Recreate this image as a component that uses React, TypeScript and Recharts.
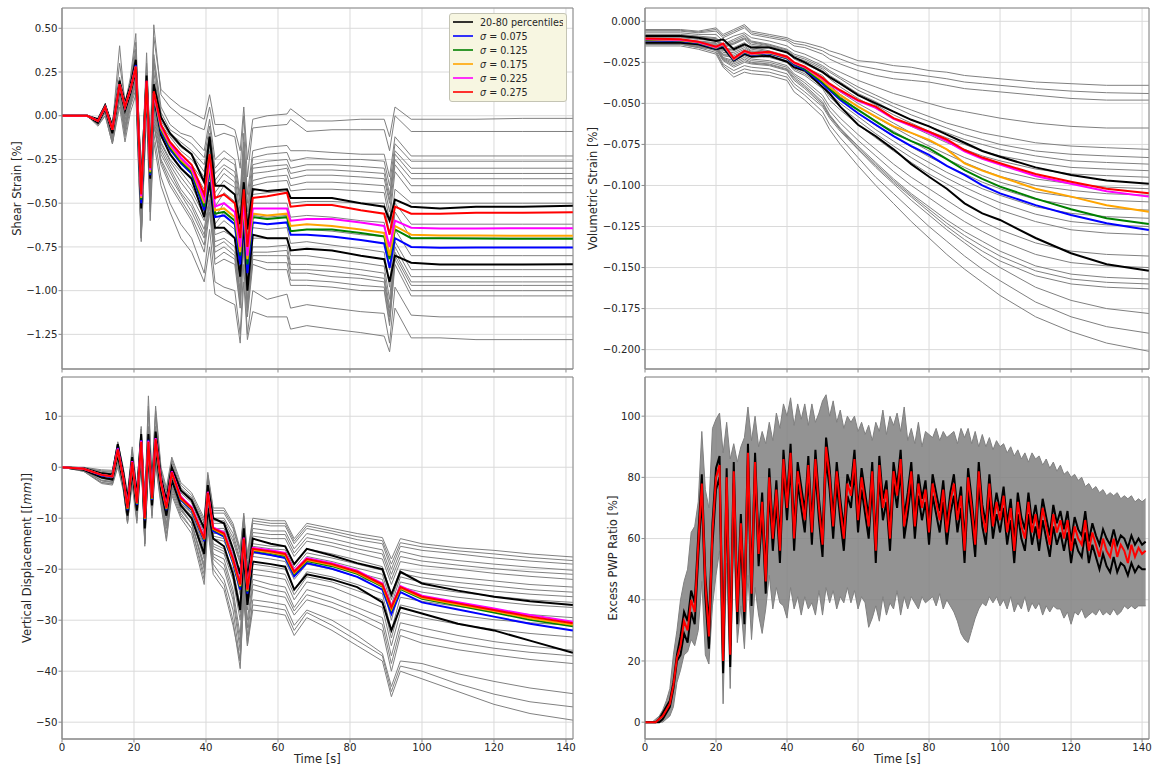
import type { ReactNode } from 'react'
import {
  ComposedChart,
  Line,
  Area,
  XAxis,
  YAxis,
  CartesianGrid,
  ReferenceArea,
  Legend,
  Label,
} from 'recharts'

const FONT = '"DejaVu Sans", sans-serif'
const TEXT = '#262626'
const SPINE = '#8a8a8a'
const GRID = '#dadada'
const GRAY = '#808080'
const X_MAX = 141.95
const TIME_TICKS = [0, 20, 40, 60, 80, 100, 120, 140]

const SIGMA_COLORS = ['#0000ff', '#008000', '#ffa500', '#ff00ff', '#ff0000']
const SIGMA_VALUES = ['0.075', '0.125', '0.175', '0.225', '0.275']

// ---------- shear strain [%] ----------
const shearTime = [0, 7, 10, 12, 14, 16, 17.5, 19, 20.5, 22, 23.5, 24.5, 25.5, 27.5, 30, 33, 36, 39.5, 41, 42.5,
  45, 48, 49.5, 50.5, 51.5, 53, 57, 62.5, 63.5, 68, 75, 83, 89.5, 91, 92.5, 97, 105, 115, 128, 141.9]

const shearGray = [
  [0, 0, -0.02, 0.06, -0.05, 0.3, 0.08, 0.2, 0.42, -0.35, 0.3, -0.15, 0.45, 0.15, 0.1, 0.05, 0.02, -0.02, 0.12, -0.05,
    -0.05, -0.08, -0.2, 0.05, -0.25, -0.02, 0, 0.01, 0.04, -0.03, -0.03, -0.02, -0.02, -0.12, 0.05, -0.02, -0.02, -0.02, -0.015, -0.015],
  [0, 0, -0.03, 0.07, -0.06, 0.4, 0.06, 0.22, 0.47, -0.4, 0.36, -0.2, 0.52, 0.12, 0.05, 0, -0.05, -0.08, 0.05, -0.12,
    -0.1, -0.12, -0.3, 0, -0.35, -0.07, -0.06, -0.05, -0.02, -0.09, -0.08, -0.08, -0.08, -0.2, 0, -0.09, -0.09, -0.09, -0.09, -0.09],
  [0, 0, -0.03, 0.06, -0.08, 0.2, 0.04, 0.18, 0.38, -0.5, 0.25, -0.25, 0.35, 0.05, -0.05, -0.1, -0.12, -0.2, -0.02, -0.25,
    -0.2, -0.25, -0.45, -0.1, -0.45, -0.2, -0.18, -0.17, -0.2, -0.2, -0.21, -0.22, -0.22, -0.35, -0.12, -0.23, -0.23, -0.23, -0.23, -0.23],
  [0, 0, -0.03, 0.06, -0.09, 0.21, 0.03, 0.16, 0.36, -0.52, 0.23, -0.28, 0.32, 0.02, -0.08, -0.12, -0.16, -0.24, -0.06, -0.3,
    -0.24, -0.28, -0.48, -0.15, -0.5, -0.24, -0.22, -0.21, -0.26, -0.24, -0.25, -0.25, -0.26, -0.4, -0.16, -0.26, -0.26, -0.26, -0.26, -0.26],
  [0, 0, -0.04, 0.05, -0.1, 0.22, 0.02, 0.15, 0.35, -0.55, 0.22, -0.3, 0.3, 0, -0.1, -0.15, -0.2, -0.28, -0.1, -0.33,
    -0.28, -0.32, -0.5, -0.2, -0.55, -0.28, -0.26, -0.25, -0.3, -0.28, -0.28, -0.29, -0.3, -0.45, -0.2, -0.3, -0.3, -0.3, -0.3, -0.3],
  [0, 0, -0.02, 0.05, -0.09, 0.19, 0.01, 0.14, 0.33, -0.52, 0.2, -0.31, 0.25, -0.03, -0.11, -0.18, -0.22, -0.32, -0.12, -0.37,
    -0.3, -0.35, -0.55, -0.22, -0.6, -0.3, -0.29, -0.28, -0.33, -0.31, -0.31, -0.32, -0.33, -0.48, -0.22, -0.33, -0.33, -0.33, -0.33, -0.33],
  [0, 0, -0.02, 0.04, -0.09, 0.15, 0, 0.12, 0.3, -0.5, 0.18, -0.32, 0.2, -0.05, -0.12, -0.2, -0.25, -0.35, -0.15, -0.4,
    -0.33, -0.38, -0.6, -0.25, -0.65, -0.33, -0.32, -0.3, -0.36, -0.34, -0.34, -0.35, -0.36, -0.5, -0.25, -0.36, -0.36, -0.36, -0.36, -0.36],
  [0, 0, -0.03, 0.05, -0.09, 0.17, 0.02, 0.13, 0.3, -0.52, 0.19, -0.33, 0.18, -0.06, -0.15, -0.22, -0.28, -0.38, -0.17, -0.44,
    -0.37, -0.41, -0.65, -0.3, -0.7, -0.37, -0.35, -0.34, -0.4, -0.38, -0.38, -0.39, -0.4, -0.55, -0.28, -0.4, -0.4, -0.4, -0.4, -0.4],
  [0, 0, -0.03, 0.05, -0.1, 0.18, 0.03, 0.14, 0.28, -0.55, 0.2, -0.35, 0.15, -0.08, -0.18, -0.25, -0.3, -0.42, -0.2, -0.48,
    -0.4, -0.45, -0.7, -0.35, -0.75, -0.4, -0.38, -0.37, -0.43, -0.42, -0.42, -0.43, -0.44, -0.6, -0.32, -0.44, -0.44, -0.44, -0.44, -0.44],
  [0, 0, -0.03, 0.05, -0.1, 0.17, 0.03, 0.13, 0.27, -0.56, 0.18, -0.36, 0.12, -0.09, -0.2, -0.27, -0.32, -0.45, -0.24, -0.52,
    -0.44, -0.49, -0.74, -0.4, -0.8, -0.45, -0.44, -0.43, -0.5, -0.49, -0.49, -0.5, -0.5, -0.68, -0.42, -0.5, -0.5, -0.5, -0.5, -0.5],
  [0, 0, -0.04, 0.04, -0.12, 0.16, 0.02, 0.12, 0.25, -0.6, 0.15, -0.4, 0.1, -0.12, -0.22, -0.3, -0.35, -0.5, -0.3, -0.58,
    -0.5, -0.55, -0.8, -0.45, -0.85, -0.5, -0.5, -0.5, -0.58, -0.57, -0.58, -0.6, -0.61, -0.8, -0.5, -0.62, -0.62, -0.62, -0.62, -0.62],
  [0, 0, -0.03, 0.03, -0.1, 0.14, 0, 0.1, 0.22, -0.62, 0.12, -0.42, 0.05, -0.15, -0.25, -0.32, -0.4, -0.55, -0.35, -0.62,
    -0.55, -0.6, -0.85, -0.5, -0.9, -0.57, -0.58, -0.57, -0.66, -0.65, -0.66, -0.68, -0.69, -0.88, -0.55, -0.7, -0.7, -0.7, -0.7, -0.7],
  [0, 0, -0.04, 0.03, -0.12, 0.14, -0.02, 0.1, 0.23, -0.62, 0.13, -0.43, 0.04, -0.16, -0.26, -0.35, -0.43, -0.57, -0.38, -0.65,
    -0.6, -0.65, -0.9, -0.55, -0.95, -0.64, -0.65, -0.64, -0.73, -0.72, -0.74, -0.76, -0.78, -0.98, -0.65, -0.8, -0.8, -0.8, -0.8, -0.8],
  [0, 0, -0.04, 0.03, -0.13, 0.13, -0.03, 0.09, 0.21, -0.63, 0.11, -0.44, 0.02, -0.18, -0.28, -0.38, -0.46, -0.6, -0.4, -0.68,
    -0.66, -0.7, -0.95, -0.6, -1, -0.7, -0.7, -0.7, -0.8, -0.8, -0.82, -0.84, -0.86, -1.05, -0.72, -0.88, -0.88, -0.88, -0.88, -0.88],
  [0, 0, -0.05, 0.02, -0.14, 0.12, -0.05, 0.08, 0.2, -0.65, 0.1, -0.45, 0, -0.2, -0.3, -0.42, -0.5, -0.65, -0.45, -0.72,
    -0.7, -0.75, -1, -0.65, -1.05, -0.75, -0.75, -0.74, -0.85, -0.85, -0.86, -0.88, -0.9, -1.1, -0.75, -0.92, -0.92, -0.92, -0.92, -0.92],
  [0, 0, -0.05, 0.02, -0.15, 0.11, -0.06, 0.07, 0.19, -0.66, 0.09, -0.47, -0.02, -0.22, -0.32, -0.44, -0.52, -0.68, -0.48, -0.75,
    -0.72, -0.78, -1.02, -0.68, -1.08, -0.78, -0.78, -0.77, -0.88, -0.88, -0.89, -0.91, -0.93, -1.13, -0.78, -0.95, -0.95, -0.95, -0.95, -0.95],
  [0, 0, -0.04, 0.03, -0.15, 0.1, -0.08, 0.06, 0.18, -0.68, 0.08, -0.5, -0.05, -0.25, -0.35, -0.45, -0.55, -0.7, -0.5, -0.78,
    -0.75, -0.8, -1.05, -0.7, -1.1, -0.8, -0.8, -0.8, -0.9, -0.9, -0.92, -0.93, -0.95, -1.15, -0.8, -0.97, -0.97, -0.97, -0.97, -0.97],
  [0, 0, -0.05, 0.02, -0.15, 0.1, -0.09, 0.08, 0.2, -0.69, 0.09, -0.5, -0.05, -0.26, -0.38, -0.48, -0.58, -0.74, -0.52, -0.82,
    -0.78, -0.82, -1.08, -0.72, -1.12, -0.82, -0.84, -0.84, -0.94, -0.94, -0.95, -0.97, -0.98, -1.18, -0.82, -1, -1, -1, -1, -1],
  [0, 0, -0.05, 0.02, -0.15, 0.12, -0.1, 0.1, 0.22, -0.7, 0.1, -0.5, -0.05, -0.28, -0.4, -0.5, -0.6, -0.78, -0.55, -0.85,
    -0.82, -0.85, -1.1, -0.75, -1.15, -0.85, -0.88, -0.88, -0.97, -0.97, -0.98, -1, -1, -1.2, -0.85, -1.03, -1.03, -1.03, -1.03, -1.03],
  [0, 0, -0.05, 0, -0.16, 0.08, -0.12, 0.05, 0.15, -0.7, 0.05, -0.55, -0.1, -0.35, -0.5, -0.62, -0.7, -0.9, -0.65, -0.95,
    -0.98, -1, -1.25, -0.85, -1.25, -1, -1.05, -1.02, -1.1, -1.08, -1.1, -1.12, -1.13, -1.3, -0.98, -1.14, -1.15, -1.15, -1.15, -1.15],
  [0, 0, -0.06, 0, -0.16, 0.05, -0.15, 0.02, 0.12, -0.72, 0.02, -0.6, -0.15, -0.4, -0.55, -0.7, -0.78, -0.95, -0.75, -1.02,
    -1.05, -1.08, -1.3, -0.95, -1.28, -1.12, -1.15, -1.15, -1.22, -1.2, -1.22, -1.24, -1.26, -1.35, -1.1, -1.27, -1.27, -1.28, -1.28, -1.28],
]
const shearHi = [0, 0, -0.02, 0.06, -0.06, 0.2, 0.07, 0.17, 0.32, -0.4, 0.23, -0.26, 0.18, -0.01, -0.1, -0.17, -0.22, -0.38, -0.12, -0.4,
  -0.4, -0.45, -0.62, -0.38, -0.65, -0.42, -0.43, -0.42, -0.47, -0.47, -0.47, -0.5, -0.52, -0.6, -0.48, -0.52, -0.53, -0.52, -0.52, -0.515]
const shearLo = [0, 0, -0.04, 0.04, -0.1, 0.16, 0.03, 0.13, 0.26, -0.53, 0.17, -0.36, 0.1, -0.11, -0.22, -0.3, -0.36, -0.58, -0.38, -0.64,
  -0.64, -0.7, -0.92, -0.6, -1, -0.68, -0.7, -0.7, -0.77, -0.76, -0.77, -0.8, -0.82, -0.95, -0.8, -0.84, -0.85, -0.85, -0.85, -0.849]
const shearSigma = [
  [0, 0, -0.03, 0.05, -0.08, 0.18, 0.05, 0.15, 0.29, -0.5, 0.19, -0.34, 0.12, -0.09, -0.19, -0.27, -0.33, -0.54, -0.3, -0.58,
    -0.57, -0.62, -0.85, -0.55, -0.9, -0.61, -0.62, -0.61, -0.68, -0.68, -0.69, -0.71, -0.73, -0.87, -0.7, -0.75, -0.755, -0.754, -0.754, -0.754],
  [0, 0, -0.03, 0.05, -0.08, 0.18, 0.05, 0.15, 0.28, -0.48, 0.19, -0.33, 0.12, -0.08, -0.18, -0.26, -0.32, -0.52, -0.28, -0.56,
    -0.55, -0.6, -0.8, -0.52, -0.85, -0.58, -0.59, -0.58, -0.66, -0.65, -0.65, -0.67, -0.69, -0.82, -0.65, -0.7, -0.7, -0.702, -0.703, -0.703],
  [0, 0, -0.03, 0.05, -0.08, 0.18, 0.05, 0.15, 0.28, -0.47, 0.19, -0.32, 0.13, -0.07, -0.17, -0.25, -0.31, -0.5, -0.27, -0.54,
    -0.53, -0.58, -0.78, -0.5, -0.82, -0.56, -0.57, -0.56, -0.63, -0.62, -0.63, -0.65, -0.67, -0.8, -0.63, -0.68, -0.685, -0.685, -0.686, -0.686],
  [0, 0, -0.03, 0.05, -0.08, 0.18, 0.05, 0.15, 0.28, -0.46, 0.2, -0.31, 0.13, -0.06, -0.16, -0.24, -0.3, -0.48, -0.25, -0.52,
    -0.5, -0.55, -0.75, -0.48, -0.8, -0.53, -0.53, -0.53, -0.6, -0.59, -0.59, -0.61, -0.63, -0.75, -0.6, -0.64, -0.645, -0.645, -0.643, -0.643],
  [0, 0, -0.03, 0.05, -0.08, 0.18, 0.05, 0.15, 0.28, -0.45, 0.2, -0.3, 0.14, -0.05, -0.15, -0.22, -0.28, -0.45, -0.22, -0.47,
    -0.45, -0.5, -0.7, -0.42, -0.75, -0.47, -0.46, -0.44, -0.52, -0.51, -0.51, -0.54, -0.56, -0.68, -0.52, -0.56, -0.56, -0.555, -0.555, -0.552],
]
const shearTicks = [-1.25, -1, -0.75, -0.5, -0.25, 0, 0.25, 0.5]

// ---------- volumetric strain [%] ----------
const volTime = [0, 10, 15, 20, 22, 25, 28, 30, 35, 40, 42, 45, 50, 52, 55, 60, 65, 70, 75, 80, 85, 90, 95, 100, 110, 120, 130, 141.9]

const volGray = [
  [-0.005, -0.005, -0.006, -0.004, -0.008, -0.005, -0.002, -0.006, -0.008, -0.01, -0.012, -0.013, -0.016, -0.018, -0.02, -0.024, -0.025, -0.027, -0.028, -0.03, -0.031, -0.033, -0.034, -0.035, -0.037, -0.038, -0.039, -0.039],
  [-0.0055, -0.0055, -0.0065, -0.005, -0.009, -0.006, -0.003, -0.007, -0.009, -0.011, -0.0135, -0.0145, -0.018, -0.0205, -0.023, -0.027, -0.029, -0.031, -0.032, -0.0335, -0.035, -0.037, -0.038, -0.039, -0.041, -0.0425, -0.0435, -0.044],
  [-0.006, -0.006, -0.007, -0.006, -0.01, -0.007, -0.004, -0.008, -0.01, -0.012, -0.015, -0.016, -0.02, -0.023, -0.026, -0.03, -0.033, -0.035, -0.036, -0.037, -0.039, -0.041, -0.042, -0.043, -0.045, -0.047, -0.048, -0.048],
  [-0.007, -0.007, -0.008, -0.008, -0.012, -0.009, -0.007, -0.01, -0.012, -0.015, -0.018, -0.02, -0.025, -0.028, -0.031, -0.036, -0.04, -0.044, -0.047, -0.05, -0.053, -0.055, -0.057, -0.059, -0.062, -0.064, -0.065, -0.065],
  [-0.008, -0.008, -0.009, -0.01, -0.014, -0.011, -0.008, -0.012, -0.014, -0.017, -0.02, -0.022, -0.027, -0.03, -0.034, -0.04, -0.045, -0.05, -0.054, -0.058, -0.062, -0.065, -0.068, -0.07, -0.074, -0.076, -0.077, -0.078],
  [-0.0085, -0.0085, -0.0095, -0.0105, -0.0145, -0.012, -0.009, -0.0125, -0.0145, -0.0175, -0.021, -0.023, -0.028, -0.031, -0.035, -0.042, -0.047, -0.052, -0.057, -0.061, -0.065, -0.069, -0.072, -0.075, -0.079, -0.081, -0.082, -0.083],
  [-0.009, -0.009, -0.01, -0.011, -0.015, -0.013, -0.01, -0.013, -0.015, -0.018, -0.022, -0.024, -0.029, -0.033, -0.037, -0.044, -0.049, -0.055, -0.06, -0.064, -0.068, -0.072, -0.075, -0.078, -0.082, -0.085, -0.086, -0.087],
  [-0.0095, -0.0095, -0.0105, -0.0115, -0.0155, -0.0135, -0.0105, -0.014, -0.0155, -0.0185, -0.0225, -0.025, -0.03, -0.034, -0.038, -0.045, -0.051, -0.057, -0.062, -0.067, -0.071, -0.075, -0.079, -0.082, -0.086, -0.089, -0.09, -0.091],
  [-0.01, -0.01, -0.011, -0.012, -0.016, -0.014, -0.011, -0.015, -0.016, -0.019, -0.023, -0.026, -0.031, -0.035, -0.04, -0.047, -0.053, -0.059, -0.064, -0.069, -0.074, -0.078, -0.082, -0.085, -0.09, -0.093, -0.094, -0.095],
  [-0.011, -0.011, -0.012, -0.013, -0.017, -0.016, -0.013, -0.016, -0.018, -0.021, -0.025, -0.028, -0.033, -0.038, -0.043, -0.05, -0.056, -0.062, -0.068, -0.073, -0.078, -0.083, -0.087, -0.091, -0.096, -0.099, -0.101, -0.102],
  [-0.0115, -0.0115, -0.0125, -0.0135, -0.0175, -0.017, -0.014, -0.017, -0.0185, -0.0215, -0.0255, -0.0285, -0.034, -0.039, -0.0445, -0.052, -0.0585, -0.0645, -0.0705, -0.076, -0.081, -0.086, -0.0905, -0.0945, -0.1, -0.103, -0.105, -0.106],
  [-0.012, -0.012, -0.013, -0.014, -0.018, -0.018, -0.015, -0.018, -0.019, -0.022, -0.026, -0.029, -0.035, -0.04, -0.046, -0.054, -0.061, -0.067, -0.073, -0.079, -0.084, -0.089, -0.094, -0.098, -0.104, -0.107, -0.109, -0.11],
  [-0.0125, -0.0125, -0.0135, -0.0145, -0.019, -0.019, -0.016, -0.0185, -0.02, -0.023, -0.027, -0.03, -0.0365, -0.042, -0.048, -0.056, -0.0635, -0.07, -0.0765, -0.0825, -0.088, -0.093, -0.098, -0.102, -0.1085, -0.112, -0.114, -0.115],
  [-0.013, -0.013, -0.014, -0.015, -0.02, -0.02, -0.017, -0.019, -0.021, -0.024, -0.028, -0.031, -0.038, -0.044, -0.05, -0.058, -0.066, -0.073, -0.08, -0.086, -0.092, -0.097, -0.102, -0.106, -0.113, -0.117, -0.119, -0.12],
  [-0.0135, -0.0135, -0.0145, -0.0155, -0.0205, -0.021, -0.018, -0.02, -0.0215, -0.0245, -0.029, -0.032, -0.0395, -0.046, -0.052, -0.0605, -0.0685, -0.076, -0.083, -0.0895, -0.0955, -0.101, -0.106, -0.1105, -0.1175, -0.122, -0.124, -0.125],
  [-0.014, -0.014, -0.015, -0.016, -0.021, -0.022, -0.019, -0.021, -0.022, -0.025, -0.03, -0.033, -0.041, -0.048, -0.054, -0.063, -0.071, -0.079, -0.086, -0.093, -0.099, -0.105, -0.11, -0.115, -0.122, -0.127, -0.129, -0.13],
  [-0.012, -0.012, -0.014, -0.015, -0.022, -0.024, -0.021, -0.023, -0.024, -0.027, -0.032, -0.036, -0.045, -0.052, -0.059, -0.069, -0.078, -0.087, -0.095, -0.102, -0.109, -0.116, -0.122, -0.127, -0.135, -0.14, -0.142, -0.143],
  [-0.0125, -0.0125, -0.0145, -0.0155, -0.0225, -0.025, -0.022, -0.024, -0.025, -0.028, -0.033, -0.0375, -0.047, -0.0545, -0.062, -0.0725, -0.082, -0.0915, -0.1, -0.1075, -0.115, -0.122, -0.128, -0.1335, -0.142, -0.147, -0.149, -0.15],
  [-0.013, -0.013, -0.015, -0.016, -0.023, -0.026, -0.023, -0.025, -0.026, -0.029, -0.034, -0.039, -0.049, -0.057, -0.065, -0.076, -0.086, -0.096, -0.105, -0.113, -0.121, -0.128, -0.134, -0.14, -0.149, -0.154, -0.156, -0.157],
  [-0.0135, -0.0135, -0.0155, -0.0165, -0.0235, -0.027, -0.024, -0.0255, -0.0265, -0.0295, -0.035, -0.04, -0.05, -0.0575, -0.0655, -0.077, -0.087, -0.097, -0.106, -0.1145, -0.123, -0.1305, -0.137, -0.143, -0.152, -0.157, -0.159, -0.16],
  [-0.014, -0.014, -0.016, -0.017, -0.024, -0.028, -0.025, -0.026, -0.027, -0.03, -0.036, -0.041, -0.051, -0.058, -0.066, -0.078, -0.088, -0.098, -0.107, -0.116, -0.125, -0.133, -0.14, -0.146, -0.155, -0.16, -0.162, -0.163],
  [-0.013, -0.013, -0.015, -0.018, -0.026, -0.03, -0.027, -0.028, -0.029, -0.032, -0.038, -0.043, -0.052, -0.059, -0.067, -0.078, -0.089, -0.099, -0.109, -0.118, -0.127, -0.135, -0.143, -0.15, -0.162, -0.17, -0.175, -0.178],
  [-0.014, -0.014, -0.016, -0.019, -0.027, -0.032, -0.029, -0.03, -0.031, -0.034, -0.04, -0.045, -0.055, -0.063, -0.071, -0.083, -0.095, -0.105, -0.115, -0.125, -0.134, -0.143, -0.151, -0.158, -0.171, -0.18, -0.186, -0.19],
  [-0.015, -0.015, -0.017, -0.02, -0.028, -0.034, -0.031, -0.032, -0.033, -0.036, -0.043, -0.048, -0.058, -0.066, -0.075, -0.088, -0.1, -0.111, -0.122, -0.132, -0.142, -0.151, -0.159, -0.167, -0.18, -0.189, -0.196, -0.201],
]
const volHi = [-0.009, -0.009, -0.01, -0.012, -0.011, -0.017, -0.014, -0.016, -0.016, -0.019, -0.022, -0.025, -0.031, -0.034, -0.038, -0.045, -0.05, -0.055, -0.06, -0.064, -0.069, -0.074, -0.079, -0.0825, -0.089, -0.0936, -0.097, -0.099]
const volLo = [-0.013, -0.013, -0.014, -0.017, -0.016, -0.024, -0.02, -0.0216, -0.021, -0.0246, -0.028, -0.03, -0.04, -0.044, -0.052, -0.063, -0.07, -0.078, -0.087, -0.0947, -0.102, -0.1109, -0.117, -0.121, -0.132, -0.1413, -0.148, -0.152]
const volSigma = [
  [-0.0115, -0.012, -0.0133, -0.0165, -0.0145, -0.0235, -0.019, -0.0205, -0.0195, -0.0226, -0.0265, -0.0295, -0.038, -0.042, -0.048, -0.056, -0.063, -0.07, -0.076, -0.0814, -0.088, -0.0936, -0.1, -0.1048, -0.112, -0.118, -0.123, -0.1271],
  [-0.0112, -0.0117, -0.013, -0.0162, -0.0142, -0.0232, -0.0187, -0.0202, -0.0192, -0.0223, -0.026, -0.029, -0.037, -0.041, -0.047, -0.054, -0.061, -0.068, -0.073, -0.0774, -0.084, -0.0906, -0.096, -0.1007, -0.108, -0.1145, -0.12, -0.1235],
  [-0.011, -0.0115, -0.0128, -0.016, -0.014, -0.023, -0.0185, -0.02, -0.019, -0.022, -0.0255, -0.028, -0.036, -0.04, -0.045, -0.052, -0.058, -0.064, -0.068, -0.0722, -0.078, -0.0865, -0.091, -0.0947, -0.102, -0.1068, -0.112, -0.116],
  [-0.0108, -0.0112, -0.0126, -0.0157, -0.0137, -0.0228, -0.0182, -0.0197, -0.0187, -0.0218, -0.0253, -0.028, -0.035, -0.0385, -0.0425, -0.0485, -0.0527, -0.0595, -0.0637, -0.068, -0.073, -0.0792, -0.0838, -0.0873, -0.0942, -0.099, -0.1035, -0.1068],
  [-0.0105, -0.011, -0.0124, -0.0155, -0.0135, -0.0226, -0.018, -0.0195, -0.0185, -0.0216, -0.025, -0.0276, -0.0345, -0.038, -0.042, -0.048, -0.052, -0.059, -0.063, -0.0672, -0.072, -0.0784, -0.083, -0.0865, -0.093, -0.0977, -0.102, -0.1048],
]
const volTicks = [-0.2, -0.175, -0.15, -0.125, -0.1, -0.075, -0.05, -0.025, 0]

// ---------- vertical displacement [mm] ----------
const dispTime = [0, 6, 11, 14, 15.5, 17, 18.2, 19.5, 20.8, 22, 23, 24, 25, 26, 27.5, 29, 30.5, 33,
  36, 39.5, 40.5, 42, 45, 47.5, 49.5, 50.5, 51.5, 53, 58, 62, 64.5, 68, 75, 82, 89, 91.5, 94, 100, 110, 120, 130, 141.9]

const dispGray = [
  [0, 0, -0.5, -0.6, 5, 0, -5, 4, -4, 8, -7, 14, -2, 12, 0, -4, 2, -3,
    -5, -10, -1, -8, -8, -11, -16, -9, -17, -10, -10.5, -10.5, -14, -11, -12, -13, -13.8, -18, -14, -15, -15.8, -16.3, -17, -17.6],
  [0, -0.1, -0.7, -0.8, 4.8, -0.3, -5.5, 3.5, -4.5, 7.5, -7.5, 12, -2.5, 11, -0.5, -4.5, 1.5, -3.5,
    -5.5, -10.5, -1.5, -8.5, -8.5, -11.5, -16.5, -9.5, -17.5, -10.5, -11, -11, -14.5, -11.5, -12.5, -13.6, -14.4, -19, -14.8, -15.6, -16.4, -17, -17.7, -18.3],
  [0, -0.1, -0.8, -1, 4.5, -0.5, -6, 3, -5, 7, -8, 11, -3, 10, -1, -5, 1, -4,
    -6, -11, -2, -9, -9, -12, -17, -10, -18, -11, -11.5, -11.5, -15, -12, -13, -14.2, -15, -20, -15.5, -16.3, -17, -17.8, -18.4, -19],
  [0, -0.2, -1, -1.2, 4, -1, -7, 2, -6, 6.5, -9, 8, -4, 8, -2, -6, 0, -4.5,
    -6, -12, -3, -10, -10, -13, -18, -11, -19, -12, -12.5, -12.5, -16, -13, -14, -15.2, -16.2, -21, -16.5, -17.5, -18.3, -19, -19.6, -20.2],
  [0, -0.2, -1.1, -1.3, 3.9, -1.2, -7.2, 1.8, -6.2, 6.2, -9.2, 7, -4.5, 7.5, -2.2, -6.5, -0.2, -4.8,
    -6.5, -12.5, -3.5, -10.5, -10.5, -13.8, -18.5, -11.5, -19.5, -12.8, -13.2, -13.2, -16.8, -13.8, -14.8, -16, -17, -22, -17.5, -18.4, -19.2, -19.9, -20.5, -21],
  [0, -0.2, -1.2, -1.5, 3.8, -1.5, -7.5, 1.5, -6.5, 6, -9.5, 6, -5, 7, -2.5, -7, -0.5, -5,
    -7, -13, -4, -11, -11, -14.5, -19, -12, -20, -13.5, -14, -14, -17.5, -14.5, -15.5, -16.8, -18, -23, -18.5, -19.3, -20, -20.8, -21.4, -22],
  [0, -0.3, -1.4, -1.7, 3.6, -2, -8, 1, -7, 5.5, -10, 5.5, -5.5, 6, -3, -7.5, -1, -5.5,
    -8, -14, -5, -12, -12, -16, -21, -13, -21, -15, -15.5, -15.5, -19, -16, -17, -18.2, -19.5, -25, -20, -20.8, -21.6, -22.3, -23, -23.5],
  [0, -0.3, -1.5, -1.8, 3.4, -2.1, -8.2, 0.8, -7.2, 5.2, -10.2, 5.2, -5.8, 5.5, -3.2, -7.8, -1.2, -5.8,
    -8, -14.5, -5, -12.5, -12.5, -16.5, -22, -13.5, -21.5, -15.5, -16, -16.2, -19.8, -16.8, -17.8, -19, -20.2, -26, -20.8, -21.7, -22.6, -23.3, -24, -24.5],
  [0, -0.3, -1.6, -1.9, 3.3, -2.2, -8.5, 0.5, -7.5, 5, -10.5, 5, -6, 5, -3.5, -8, -1.5, -6,
    -8, -15, -5, -13, -13, -17, -23, -14, -22, -16, -16.5, -17, -20.5, -17.5, -18.5, -19.8, -21, -27, -21.5, -22.6, -23.5, -24.3, -24.9, -25.4],
  [0, -0.4, -1.7, -2, 3.1, -2.4, -8.8, 0.2, -7.8, 4.7, -10.8, 4.7, -6.3, 4.8, -3.8, -8.3, -1.8, -6.3,
    -8.5, -15.5, -5.5, -13.5, -14, -17.8, -24, -14.5, -23, -16.8, -17.3, -17.8, -21.3, -18.3, -19.3, -20.7, -22, -28.5, -22.5, -23.5, -24.5, -25.3, -26, -26.5],
  [0, -0.4, -1.8, -2.1, 3, -2.5, -9, 0, -8, 4.5, -11, 4.5, -6.5, 4.5, -4, -8.5, -2, -6.5,
    -9, -16, -6, -14, -14.5, -18.5, -25, -15, -24, -17.5, -18, -18.5, -22, -19, -20, -21.5, -23, -30, -23.5, -24.5, -25.5, -26.3, -27, -27.5],
  [0, -0.5, -2, -2.4, 2.6, -3, -9.5, -0.5, -8.5, 4, -12, 4, -7, 4, -4.5, -9, -2.5, -7,
    -9, -17, -7, -15, -16, -20, -27, -17, -26, -19, -19.5, -20, -24, -20.5, -21.5, -23, -24.8, -32, -25.5, -26.3, -27.3, -28.2, -28.9, -29.5],
  [0, -0.5, -2.1, -2.5, 2.4, -3.1, -9.8, -0.8, -8.8, 3.8, -12.5, 3.5, -7.2, 3.5, -4.8, -9.5, -2.8, -7.2,
    -9.5, -17.5, -7.5, -15.5, -16.5, -21, -28.5, -18, -27, -20, -20.5, -21, -25, -21.5, -22.5, -24.2, -26, -33.5, -27, -28, -29, -29.9, -30.5, -31],
  [0, -0.5, -2.2, -2.6, 2.2, -3.2, -10, -1, -9, 3.5, -13, 3, -7.5, 3, -5, -10, -3, -7.5,
    -10, -18, -8, -16, -17, -22, -30, -19, -28, -21, -21.5, -22, -26, -22.5, -23.5, -25.5, -27.5, -35, -28.5, -29.5, -30.8, -31.8, -32.6, -33.3],
  [0, -0.6, -2.5, -2.8, 2, -3.5, -10.5, -1.5, -9.5, 3, -14, 2, -8, 2.5, -5.5, -11, -3.5, -8,
    -11, -19, -9, -17, -18, -24, -33, -20, -30, -22, -23, -23.5, -27.5, -24, -25.5, -27.5, -29.5, -37, -30.5, -31.5, -33, -34.2, -35.1, -35.9],
  [0, -0.6, -2.6, -2.9, 1.8, -3.6, -10.8, -1.8, -9.8, 2.8, -14.2, 1.8, -8.2, 2.2, -5.8, -11.5, -3.8, -8.2,
    -11, -19.5, -9.5, -17.5, -19, -25, -34.5, -21, -31.5, -23, -24, -24.5, -28.2, -25, -26.5, -28.5, -30.8, -38.5, -31.8, -33, -34.4, -35.5, -36.3, -37],
  [0, -0.6, -2.7, -3, 1.5, -3.8, -11, -2, -10, 2.5, -14.5, 1.5, -8.5, 2, -6, -12, -4, -8.5,
    -11, -20, -10, -18, -20, -26, -36, -22, -33, -24, -25, -25.5, -29, -26, -27.5, -29.5, -32, -40, -33, -34.5, -35.8, -36.8, -37.7, -38.5],
  [0, -0.7, -3, -3.2, 1, -4, -11, -2.5, -10.5, 2, -15, 1, -9, 1.5, -6.5, -13, -4.5, -9,
    -12, -21, -11, -19, -22, -28, -38, -24, -35, -26, -26.5, -27, -31, -28, -30, -33, -36.5, -43, -38, -38.5, -40.5, -42, -43.3, -44.4],
  [0, -0.8, -3, -3.3, 0.5, -4.2, -10, -3, -10, 1.5, -15.5, 0.5, -9.5, 1, -7, -14, -5, -9.5,
    -12, -22, -11, -20, -23, -30, -39.5, -25, -34, -27, -27.5, -28, -32, -28.5, -31, -34, -37, -44, -39, -40, -42.5, -44.5, -46, -47],
  [0, -0.8, -3.2, -3.5, 0, -4.5, -10.5, -3.5, -11, 1, -15, 0, -10, 0.5, -7.5, -14.5, -5.5, -10,
    -13, -23, -12, -21, -24, -31, -38, -26, -35, -28, -28.5, -29, -33, -29.5, -32, -35, -38, -45, -40, -41.5, -44, -46.5, -48.3, -49.6],
]
const dispHi = [0, -0.2, -1.2, -1.4, 4.5, -1, -6.5, 2, -5.5, 6.5, -8.5, 6.5, -4.5, 7, -2, -6.5, 0, -4.5,
  -6.5, -12, -3.5, -10, -11, -16, -21, -12, -22, -14, -15, -15.5, -19, -16, -17.3, -18.8, -20, -25, -20.5, -22.8, -24.2, -25.4, -26.3, -27]
const dispLo = [0, -0.5, -2, -2.4, 2.5, -3, -9.5, -0.5, -8.5, 4, -12, 3.5, -7.5, 4, -4.5, -9.5, -2.5, -7.5,
  -10, -17, -8, -14, -15.5, -21, -28, -17, -27, -18.5, -19, -19.5, -24, -21, -22, -23.5, -26.5, -32, -27.5, -28.7, -30.7, -32, -34, -36.4]
const dispSigma = [
  [0, -0.3, -1.6, -1.9, 3.8, -2.2, -8.4, 1.1, -7.4, 5.3, -10.4, 5.4, -6.4, 5.6, -3.3, -8.4, -1.3, -6.4,
    -8.4, -14.5, -5.4, -12.5, -13.6, -18.8, -24, -14.6, -24.8, -16.6, -17.2, -17.8, -21.4, -18.8, -19.9, -21.5, -24, -28.8, -24.5, -26.5, -27.9, -29.3, -30.7, -32],
  [0, -0.3, -1.5, -1.8, 3.6, -2.1, -8.2, 1, -7.2, 5.1, -10.2, 5.2, -6.2, 5.4, -3.2, -8.2, -1.2, -6.2,
    -8.2, -14.2, -5.2, -12.2, -13.3, -18.4, -23.5, -14.3, -24.4, -16.3, -16.8, -17.4, -20.9, -18.4, -19.4, -20.9, -23.4, -28, -23.9, -25.8, -27.1, -28.5, -29.9, -31.2],
  [0, -0.3, -1.5, -1.8, 3.4, -2.1, -8.1, 0.9, -7.1, 4.9, -10.1, 4.9, -6.1, 5.4, -3.1, -8.1, -1.1, -6.1,
    -8.1, -14.1, -5.1, -12.1, -13.2, -18.3, -23.3, -14.2, -24.2, -16.2, -16.7, -17.2, -20.7, -18.2, -19.2, -20.7, -23.2, -27.8, -23.7, -25.6, -26.9, -28.2, -29.6, -30.9],
  [0, -0.3, -1.5, -1.8, 3.7, -2, -7.8, 1.2, -6.8, 5.2, -9.8, 5.2, -5.8, 5.7, -2.8, -7.8, -0.8, -5.8,
    -7.8, -13.8, -4.8, -11.8, -12.8, -17.8, -22.8, -13.8, -23.8, -15.8, -16.3, -16.8, -20.3, -17.8, -18.8, -20.3, -22.8, -27.3, -23.3, -25.2, -26.5, -27.7, -29, -30.3],
  [0, -0.3, -1.5, -1.8, 3.5, -2, -8, 1, -7, 5, -10, 5, -6, 5.5, -3, -8, -1, -6,
    -8, -14, -5, -12, -13, -18, -23, -14, -24, -16, -16.5, -17, -20.5, -18, -19, -20.5, -23, -27.5, -23.5, -25.4, -26.7, -28, -29.3, -30.6],
]
const dispTicks = [-50, -40, -30, -20, -10, 0, 10]

// ---------- excess pore water pressure ratio [%], one sample per second ----------
const pwpTime = Array.from({ length: 142 }, (_, i) => i)
const pwpGrayHigh = [
  0, 0, 0, 1, 2, 4, 7, 11, 22, 30, 40, 46, 50, 62, 64, 72, 95, 76, 70, 96,
  99, 101, 88, 98, 86, 91, 85, 90, 93, 103, 92, 100, 90, 95, 91, 98, 92, 101, 96, 104,
  100, 106, 97, 104, 99, 104, 97, 104, 98, 101, 105, 107, 100, 105, 98, 102, 96, 100, 98, 100,
  95, 98, 94, 97, 92, 98, 95, 102, 94, 100, 97, 101, 95, 103, 92, 96, 91, 98, 90, 95,
  94, 93, 96, 92, 95, 93, 94, 95, 91, 96, 93, 96, 91, 95, 90, 94, 90, 93, 89, 92,
  90, 91, 88, 90, 87, 89, 86, 88, 85, 88, 86, 87, 84, 86, 83, 85, 82, 84, 81, 82,
  80, 81, 79, 80, 77, 78, 76, 77, 75, 76, 74, 75, 74, 75, 73, 74, 73, 74, 72, 73,
  72, 73,
]
const pwpGrayLow = [
  0, 0, 0, 0, 0, 0, 1, 2, 5, 13, 17, 22, 23, 27, 25, 30, 46, 22, 19, 38,
  48, 56, 6, 52, 11, 58, 26, 38, 24, 48, 27, 44, 35, 29, 37, 48, 37, 44, 39, 38,
  34, 44, 37, 41, 35, 41, 37, 39, 35, 43, 35, 44, 39, 43, 37, 41, 39, 44, 39, 43,
  37, 41, 39, 31, 34, 38, 33, 41, 35, 39, 37, 43, 35, 41, 37, 41, 39, 37, 41, 39,
  40, 41, 38, 42, 37, 40, 38, 36, 33, 29, 27, 26, 30, 34, 37, 39, 38, 41, 39, 41,
  38, 40, 37, 41, 36, 39, 37, 41, 36, 39, 37, 39, 35, 38, 36, 38, 37, 37, 34, 36,
  32, 36, 35, 37, 34, 35, 36, 35, 37, 35, 36, 35, 37, 35, 36, 38, 37, 38, 37, 38,
  38, 38,
]
const pwpHi = [
  0, 0, 0, 0, 1, 3, 5, 7, 13, 22, 28, 36, 33, 43, 39, 61, 81, 48, 31, 65,
  83, 87, 23, 83, 25, 85, 39, 68, 39, 91, 45, 88, 58, 75, 49, 83, 63, 79, 59, 89,
  73, 91, 63, 85, 77, 69, 87, 65, 89, 73, 61, 93, 83, 67, 85, 73, 63, 81, 77, 89,
  69, 83, 75, 67, 85, 59, 87, 73, 79, 63, 85, 77, 89, 67, 75, 85, 67, 81, 73, 79,
  65, 81, 75, 69, 79, 65, 75, 81, 69, 77, 59, 83, 73, 61, 85, 71, 65, 81, 67, 75,
  69, 77, 65, 73, 59, 75, 67, 63, 75, 65, 71, 63, 73, 67, 61, 71, 65, 69, 63, 69,
  59, 67, 63, 61, 69, 59, 65, 61, 58, 63, 60, 58, 63, 58, 61, 60, 57, 61, 58, 60,
  58, 59,
]
const pwpLo = [
  0, 0, 0, 0, 0, 1, 3, 5, 11, 20, 22, 29, 26, 36, 32, 54, 74, 41, 24, 58,
  76, 80, 16, 76, 18, 78, 32, 61, 32, 84, 38, 81, 51, 68, 42, 76, 56, 72, 52, 82,
  66, 84, 56, 78, 70, 62, 80, 58, 82, 66, 54, 86, 76, 60, 78, 66, 56, 74, 70, 82,
  62, 76, 68, 60, 78, 52, 80, 66, 72, 56, 78, 70, 82, 60, 68, 78, 60, 74, 66, 72,
  58, 74, 68, 62, 72, 58, 68, 74, 62, 70, 52, 76, 66, 54, 78, 64, 58, 74, 60, 68,
  62, 70, 58, 66, 52, 68, 60, 56, 68, 58, 64, 56, 66, 60, 54, 64, 58, 62, 56, 62,
  52, 60, 56, 54, 62, 52, 58, 54, 50, 55, 51, 49, 54, 49, 52, 51, 48, 52, 49, 51,
  50, 50,
]
const pwpRed = [
  0, 0, 0, 0, 1, 2, 4, 6, 12, 21, 25, 33, 30, 40, 36, 58, 78, 45, 28, 62,
  80, 84, 20, 80, 22, 82, 36, 65, 36, 88, 42, 85, 55, 72, 46, 80, 60, 76, 56, 86,
  70, 88, 60, 82, 74, 66, 84, 62, 86, 70, 58, 90, 80, 64, 82, 70, 60, 78, 74, 86,
  66, 80, 72, 64, 82, 56, 84, 70, 76, 60, 82, 74, 86, 64, 72, 82, 64, 78, 70, 76,
  62, 78, 72, 66, 76, 62, 72, 78, 66, 74, 56, 80, 70, 58, 82, 68, 62, 78, 64, 72,
  66, 74, 62, 70, 56, 72, 64, 60, 72, 62, 68, 60, 70, 64, 58, 68, 62, 66, 60, 66,
  56, 64, 60, 58, 66, 56, 62, 58, 54, 60, 56, 54, 60, 54, 58, 56, 52, 58, 54, 57,
  55, 56,
]
const pwpTicks = [0, 20, 40, 60, 80, 100]

type Row = Record<string, number | number[]>

function buildRows(time: number[], gray: number[][], lo: number[], hi: number[], sigma: number[][]): Row[] {
  return time.map((t, i) => {
    const row: Row = { t, lo: lo[i], hi: hi[i] }
    gray.forEach((g, k) => { row['g' + k] = g[i] })
    sigma.forEach((s, k) => { row['s' + k] = s[i] })
    return row
  })
}

const shearRows = buildRows(shearTime, shearGray, shearLo, shearHi, shearSigma)
const volRows = buildRows(volTime, volGray, volLo, volHi, volSigma)
const dispRows = buildRows(dispTime, dispGray, dispLo, dispHi, dispSigma)
const pwpRows: Row[] = pwpTime.map((t, i) => ({
  t,
  band: [pwpGrayLow[i], pwpGrayHigh[i]],
  lo: pwpLo[i],
  hi: pwpHi[i],
  s4: pwpRed[i],
}))

const minus = (s: string) => s.replace('-', '\u2212')

function LegendBox() {
  const rows = [
    { color: '#000000', label: <>20-80 percentiles</> },
    ...SIGMA_VALUES.map((v, i) => ({ color: SIGMA_COLORS[i], label: <><tspan fontStyle="italic">σ</tspan> = {v}</> })),
  ]
  return (
    <div
      style={{
        background: '#f7f6e1',
        border: '1px solid #c4c4b4',
        borderRadius: 3,
        padding: '1px 4px 2px 3px',
        fontFamily: FONT,
        fontSize: 9.6,
        color: TEXT,
        boxSizing: 'border-box',
        width: 118,
      }}
    >
      {rows.map((r, i) => (
        <svg key={i} width={110} height={14} style={{ display: 'block' }}>
          <line x1={0} x2={20} y1={7} y2={7} stroke={r.color} strokeWidth={1.6} />
          <text x={27} y={7} dominantBaseline="central" fontSize={9.6} fill={TEXT}>{r.label}</text>
        </svg>
      ))}
    </div>
  )
}

interface PanelProps {
  rows: Row[]
  grayCount: number
  band?: boolean
  sigmaKeys: number[]
  yDomain: [number, number]
  yTicks: number[]
  formatY: (v: number) => string
  left: number
  top: number
  width: number
  height: number
  marginRight: number
  yAxisWidth: number
  marginTop: number
  xAxisHeight: number
  bottom: boolean
  yTitle: ReactNode
  yTitleX: number
  legend?: boolean
}

function Panel(p: PanelProps) {
  const plotMidY = p.marginTop + (p.height - p.marginTop - p.xAxisHeight) / 2
  return (
    <div style={{ position: 'absolute', left: p.left, top: p.top }}>
      <ComposedChart
        width={p.width}
        height={p.height}
        data={p.rows}
        margin={{ top: p.marginTop, right: p.marginRight, bottom: 0, left: 0 }}
      >
        <CartesianGrid stroke={GRID} strokeWidth={1} />
        <XAxis
          type="number"
          dataKey="t"
          domain={[0, X_MAX]}
          ticks={TIME_TICKS}
          allowDataOverflow
          height={p.xAxisHeight}
          tickSize={3.5}
          tickMargin={1}
          axisLine={{ stroke: SPINE }}
          tickLine={{ stroke: SPINE }}
          tick={{ fill: TEXT, fontSize: 10.2 }}
          tickFormatter={p.bottom ? (v: number) => String(v) : () => ''}
          label={p.bottom ? (
            <Label
              content={() => (
                <text x={317.3} y={389} textAnchor="middle" dominantBaseline="central" fontSize={11.5} fill={TEXT}>
                  Time [s]
                </text>
              )}
            />
          ) : undefined}
        />
        <YAxis
          type="number"
          domain={p.yDomain}
          ticks={p.yTicks}
          allowDataOverflow
          width={p.yAxisWidth}
          tickSize={3.5}
          tickMargin={1}
          axisLine={{ stroke: SPINE }}
          tickLine={{ stroke: SPINE }}
          tick={{ fill: TEXT, fontSize: 10.2 }}
          tickFormatter={p.formatY}
          label={
            <Label
              content={() => (
                <text
                  x={p.yTitleX}
                  y={plotMidY}
                  transform={`rotate(-90 ${p.yTitleX} ${plotMidY})`}
                  textAnchor="middle"
                  dominantBaseline="central"
                  fontSize={11.5}
                  fill={TEXT}
                >
                  {p.yTitle}
                </text>
              )}
            />
          }
        />
        {p.band && (
          <Area
            dataKey="band"
            type="linear"
            stroke={GRAY}
            strokeWidth={1}
            fill={GRAY}
            fillOpacity={0.85}
            isAnimationActive={false}
          />
        )}
        {Array.from({ length: p.grayCount }, (_, k) => (
          <Line
            key={'g' + k}
            dataKey={'g' + k}
            type="linear"
            stroke={GRAY}
            strokeWidth={1}
            dot={false}
            isAnimationActive={false}
          />
        ))}
        <Line dataKey="hi" type="linear" stroke="#000" strokeWidth={2} dot={false} isAnimationActive={false} />
        <Line dataKey="lo" type="linear" stroke="#000" strokeWidth={2} dot={false} isAnimationActive={false} />
        {p.sigmaKeys.map((k) => (
          <Line
            key={'s' + k}
            dataKey={'s' + k}
            type="linear"
            stroke={SIGMA_COLORS[k]}
            strokeWidth={2}
            dot={false}
            isAnimationActive={false}
          />
        ))}
        <ReferenceArea
          x1={0}
          x2={X_MAX}
          y1={p.yDomain[0]}
          y2={p.yDomain[1]}
          fill="none"
          fillOpacity={0}
          stroke={SPINE}
          strokeWidth={1}
          ifOverflow="visible"
        />
        {p.legend && (
          <Legend
            layout="horizontal"
            verticalAlign="middle"
            align="center"
            content={() => <LegendBox />}
            wrapperStyle={{ left: 449, top: 13, width: 118, height: 88 }}
          />
        )}
      </ComposedChart>
    </div>
  )
}

export default function App() {
  return (
    <div
      style={{
        position: 'fixed',
        left: 0,
        top: 0,
        width: 1160,
        height: 770,
        background: '#fff',
        fontFamily: FONT,
        overflow: 'hidden',
      }}
    >
      <Panel
        rows={shearRows}
        grayCount={shearGray.length}
        sigmaKeys={[0, 1, 2, 3, 4]}
        yDomain={[-1.448, 0.616]}
        yTicks={shearTicks}
        formatY={(v) => minus(v.toFixed(2))}
        left={0}
        top={0}
        width={580}
        marginRight={7}
        height={380}
        yAxisWidth={62}
        marginTop={8}
        xAxisHeight={11}
        bottom={false}
        yTitle="Shear Strain [%]"
        yTitleX={17}
        legend
      />
      <Panel
        rows={volRows}
        grayCount={volGray.length}
        sigmaKeys={[0, 1, 2, 3, 4]}
        yDomain={[-0.2118, 0.0081]}
        yTicks={volTicks}
        formatY={(v) => minus(v.toFixed(3))}
        left={580}
        top={0}
        width={580}
        marginRight={11}
        height={380}
        yAxisWidth={65}
        marginTop={8}
        xAxisHeight={11}
        bottom={false}
        yTitle="Volumetric Strain [%]"
        yTitleX={13.3}
      />
      <Panel
        rows={dispRows}
        grayCount={dispGray.length}
        sigmaKeys={[0, 1, 2, 3, 4]}
        yDomain={[-53.3, 17.7]}
        yTicks={dispTicks}
        formatY={(v) => minus(String(v))}
        left={0}
        top={370}
        width={580}
        marginRight={7}
        height={400}
        yAxisWidth={62}
        marginTop={7}
        xAxisHeight={31}
        bottom
        yTitle={<>Vertical Displacement [[<tspan fontStyle="italic">mm</tspan>]]</>}
        yTitleX={26.7}
      />
      <Panel
        rows={pwpRows}
        grayCount={0}
        band
        sigmaKeys={[4]}
        yDomain={[-5.5, 112.8]}
        yTicks={pwpTicks}
        formatY={(v) => String(v)}
        left={580}
        top={370}
        width={580}
        marginRight={11}
        height={400}
        yAxisWidth={65}
        marginTop={7}
        xAxisHeight={31}
        bottom
        yTitle="Excess PWP Ratio [%]"
        yTitleX={33.3}
      />
    </div>
  )
}
